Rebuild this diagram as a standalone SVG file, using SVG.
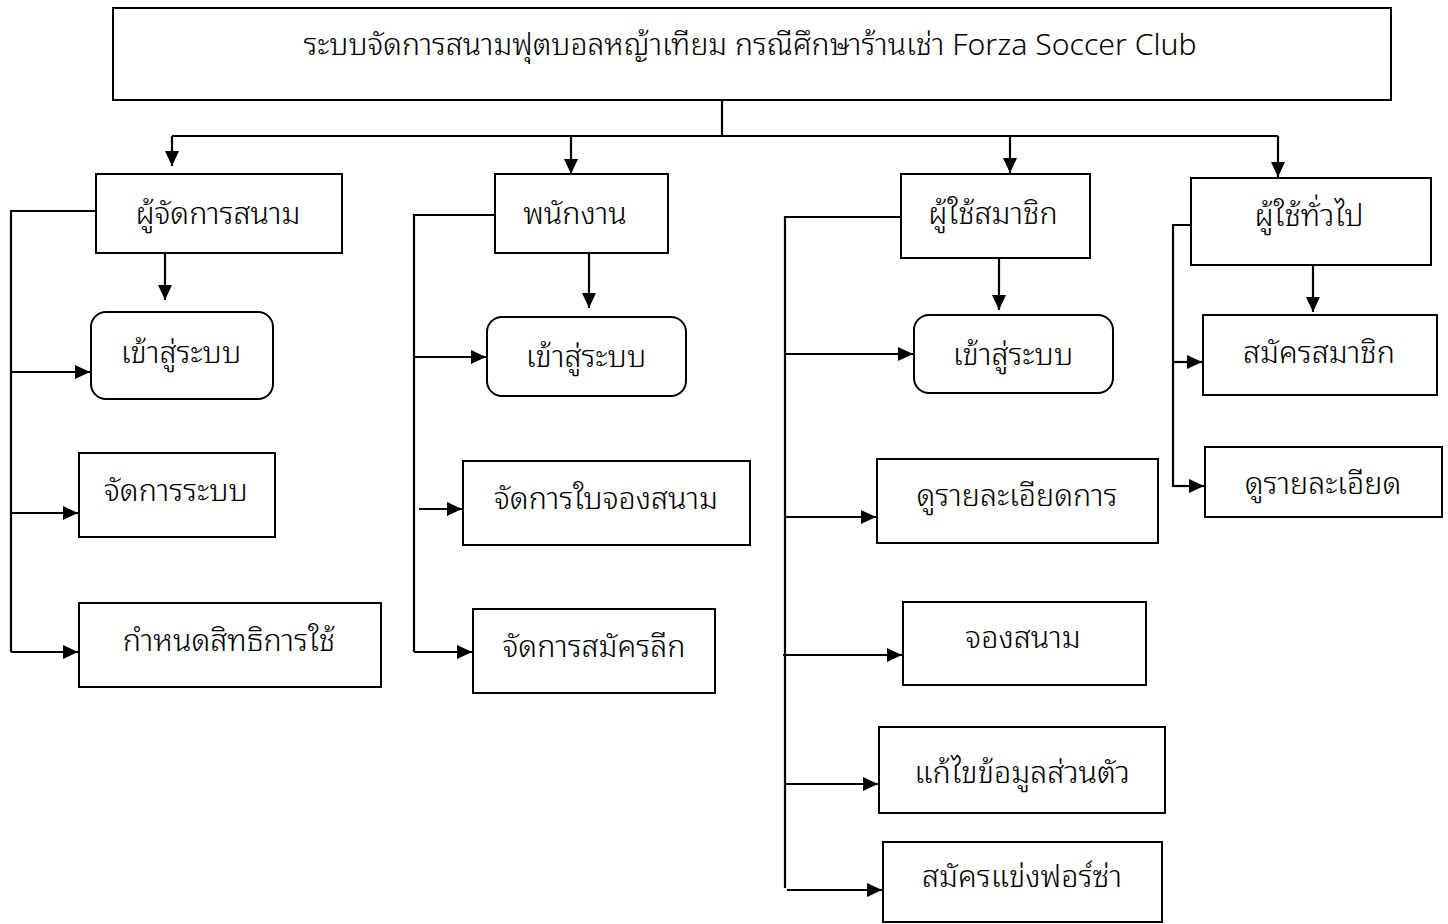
<svg xmlns="http://www.w3.org/2000/svg" width="1448" height="924" viewBox="0 0 1448 924">
<style>
.box{fill:#fff;stroke:#000;stroke-width:2}
.t{font-family:"Noto Sans Thai Looped","Noto Sans Thai","Noto Sans","Liberation Sans",sans-serif;font-size:30.5px;font-weight:300;fill:#000;text-anchor:middle}
.title{font-size:30.2px}
.c{fill:none;stroke:#000;stroke-width:2.2}
.a{marker-end:url(#arr)}
</style>
<defs>
<marker id="arr" viewBox="0 0 15 14" refX="15" refY="7" markerWidth="15" markerHeight="14" markerUnits="userSpaceOnUse" orient="auto">
<path d="M0,0 L15,7 L0,14 z" fill="#000"/>
</marker>
</defs>
<rect width="1448" height="924" fill="#fff"/>
<g id="connectors">
<path class="c" d="M722,100 V136 M172,136 H1278"/>
<path class="c a" d="M172,136 V166"/>
<path class="c a" d="M571,136 V174"/>
<path class="c a" d="M1010,136 V173"/>
<path class="c a" d="M1278,136 V177"/>
<path class="c" d="M96,211 H11 V652"/>
<path class="c a" d="M11,372 H90"/>
<path class="c a" d="M11,513 H78"/>
<path class="c a" d="M11,652 H78"/>
<path class="c a" d="M165,253 V300"/>
<path class="c" d="M495,215 H414 V652"/>
<path class="c a" d="M414,357 H486"/>
<path class="c a" d="M419,509 H462"/>
<path class="c a" d="M414,652 H472"/>
<path class="c a" d="M589,253 V308"/>
<path class="c" d="M901,217 H785 V888"/>
<path class="c a" d="M785,354 H913"/>
<path class="c a" d="M785,517 H876"/>
<path class="c a" d="M783,655 H902"/>
<path class="c a" d="M785,784 H878"/>
<path class="c a" d="M787,890 H882"/>
<path class="c a" d="M999,258 V310"/>
<path class="c" d="M1191,225 H1173 V487"/>
<path class="c a" d="M1173,362 H1202"/>
<path class="c a" d="M1173,486 H1204"/>
<path class="c a" d="M1313,265 V312"/>
</g>
<g id="root"><rect class="box" x="113" y="8" width="1278" height="92"/><text class="t title" x="750" y="55">ระบบจัดการสนามฟุตบอลหญ้าเทียม กรณีศึกษาร้านเช่า Forza Soccer Club</text></g>
<g id="manager"><rect class="box" x="96" y="174" width="246" height="79"/><text class="t" x="218" y="224">ผู้จัดการสนาม</text></g>
<g id="staff"><rect class="box" x="495" y="174" width="173" height="79"/><text class="t" x="575" y="224">พนักงาน</text></g>
<g id="member"><rect class="box" x="901" y="174" width="189" height="84"/><text class="t" x="993" y="224">ผู้ใช้สมาชิก</text></g>
<g id="guest"><rect class="box" x="1191" y="178" width="240" height="87"/><text class="t" x="1309" y="226">ผู้ใช้ทั่วไป</text></g>
<g id="m-login"><rect class="box" x="91" y="312" width="182" height="87" rx="15"/><text class="t" x="181" y="363">เข้าสู่ระบบ</text></g>
<g id="m-manage"><rect class="box" x="79" y="453" width="196" height="84"/><text class="t" x="176" y="501">จัดการระบบ</text></g>
<g id="m-rights"><rect class="box" x="79" y="603" width="302" height="84"/><text class="t" x="229" y="651">กำหนดสิทธิการใช้</text></g>
<g id="s-login"><rect class="box" x="487" y="317" width="199" height="79" rx="15"/><text class="t" x="586" y="367">เข้าสู่ระบบ</text></g>
<g id="s-booking"><rect class="box" x="463" y="461" width="287" height="84"/><text class="t" x="606" y="509">จัดการใบจองสนาม</text></g>
<g id="s-league"><rect class="box" x="473" y="609" width="242" height="84"/><text class="t" x="594" y="657">จัดการสมัครลีก</text></g>
<g id="u-login"><rect class="box" x="914" y="315" width="199" height="78" rx="15"/><text class="t" x="1013" y="365">เข้าสู่ระบบ</text></g>
<g id="u-detail"><rect class="box" x="877" y="459" width="281" height="84"/><text class="t" x="1017" y="506">ดูรายละเอียดการ</text></g>
<g id="u-book"><rect class="box" x="903" y="602" width="243" height="83"/><text class="t" x="1023" y="648">จองสนาม</text></g>
<g id="u-profile"><rect class="box" x="879" y="727" width="286" height="86"/><text class="t" x="1022" y="783">แก้ไขข้อมูลส่วนตัว</text></g>
<g id="u-forza"><rect class="box" x="883" y="842" width="279" height="80"/><text class="t" x="1022" y="887">สมัครแข่งฟอร์ซ่า</text></g>
<g id="g-register"><rect class="box" x="1203" y="315" width="234" height="80"/><text class="t" x="1319" y="363">สมัครสมาชิก</text></g>
<g id="g-detail"><rect class="box" x="1205" y="447" width="237" height="70"/><text class="t" x="1323" y="494">ดูรายละเอียด</text></g>
</svg>
